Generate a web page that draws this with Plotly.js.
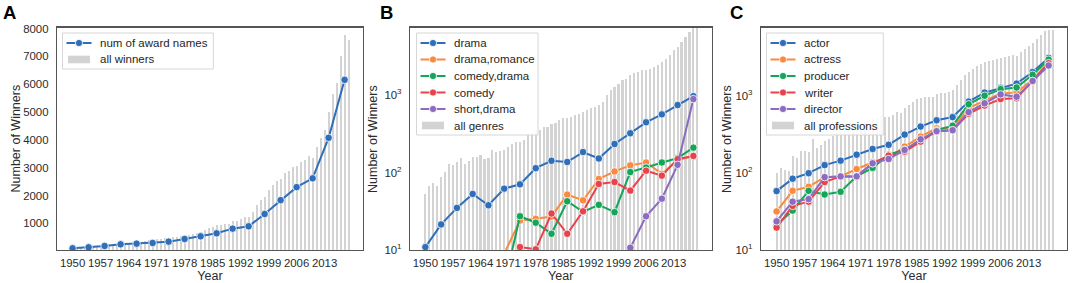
<!DOCTYPE html>
<html>
<head>
<meta charset="utf-8">
<script src="https://cdn.plot.ly/plotly-3.0.1.min.js"></script>
<style>html,body{margin:0;padding:0;background:#fff}#chart{width:1072px;height:283px}</style>
</head>
<body>
<div id="chart"></div>
<script>
// ---------- data ----------
const barYears = [1950,1951,1952,1953,1954,1955,1956,1957,1958,1959,
  1960,1961,1962,1963,1964,1965,1966,1967,1968,1969,
  1970,1971,1972,1973,1974,1975,1976,1977,1978,1979,
  1980,1981,1982,1983,1984,1985,1986,1987,1988,1989,
  1990,1991,1992,1993,1994,1995,1996,1997,1998,1999,
  2000,2001,2002,2003,2004,2005,2006,2007,2008,2009,
  2010,2011,2012,2013,2014,2015,2016,2017,2018,2019];
const pointYears = [1950,1954,1958,1962,1966,1970,1974,1978,1982,1986,1990,1994,1998,2002,2006,2010,2014,2018];
const xTickVals = [1950,1957,1964,1971,1978,1985,1992,1999,2006,2013];
const xTickText = ['1950','1957','1964','1971','1978','1985','1992','1999','2006','2013'];
const yTickValsA = [1000,2000,3000,4000,5000,6000,7000,8000];
const logTickVals = [10,100,1000];
const logTickText = ['10<sup>1</sup>','10<sup>2</sup>','10<sup>3</sup>'];

// Panel A
const allWinners = [101,117,109,107,166,158,192,192,188,271,
  212,233,258,271,299,310,330,345,360,385,
  400,420,440,460,470,500,510,540,560,590,
  620,650,700,760,830,880,930,950,970,975,
  1080,1100,1150,1220,1240,1420,1650,1830,1950,2180,
  2370,2520,2580,2800,2890,3030,3050,3200,3270,3410,
  3330,3750,4050,4350,5000,5650,6050,7000,7760,7600];
const awardNames = [103,139,187,246,270,294,342,438,533,641,809,892,1335,1833,2300,2617,4072,6155];

// Panel B
const allGenres = [53,68,73,68,89,102,130,127,135,154,
  129,142,161,157,170,149,155,193,182,191,
  193,217,233,247,251,265,306,320,340,355,
  385,392,425,433,478,500,510,525,553,570,
  611,640,676,708,745,821,1000,1160,1280,1413,
  1555,1637,1807,1905,2000,2100,2140,2200,2310,2430,
  2680,2955,3300,3780,4170,4800,5600,6500,8000,8000];
const drama        = [10.9,21.4,35,53,37.8,62,70.5,114,142,137,184,152,234,322,446,565,745,970];
const dramaRomance = [null,null,null,null,null,9,24,25.3,27,52,43.8,82.6,103.5,124,135,96.6,146,164];
const comedyDrama  = [null,null,null,null,null,3.5,27.3,22.5,16.2,42.6,31.1,38.3,30.8,101.6,116,135,154,210];
const comedy       = [null,null,null,null,null,null,10.9,10.2,29.6,16.2,31.6,71.3,75.5,58.5,105.7,91.3,149,164];
const shortDrama   = [null,null,null,null,null,null,null,null,null,null,null,null,null,10.7,27.3,46,126,890];

// Panel C
const allProfessions = [101,117,109,107,166,158,192,192,188,271,
  212,233,258,271,299,330,350,370,390,400,
  420,440,460,480,500,520,538,525,525,560,
  624,600,688,758,838,900,930,950,960,971,
  1039,1080,1100,1125,1180,1366,1581,1832,2024,2230,
  2455,2582,2715,2846,2930,2990,3080,3140,3237,3396,
  3298,3640,4010,4418,4885,5380,6050,6870,7210,7210];
const actor    = [58,84,99,126,144,172,204,231,313,398,480,528,838,1097,1265,1435,2024,3085];
const actress  = [31.6,58.5,66,88,90.5,112,137,160,219,295,378,372,689,853,1070,1102,1616,2718];
const producer = [21,32.4,58.5,52.4,56.8,90,116,172,200,260,357,409,774,1000,1215,1276,1870,2930];
const writer   = [19.5,37.3,42.3,76,90,90,133,167,188,254,347,357,583,745,906,925,1552,2640];
const director = [23.5,42.3,45.7,88,90,90,133,151,198,272,347,357,612,797,1040,970,1552,2460];

// ---------- styles ----------
const W = 1072, H = 283;
const FONT = 'Liberation Sans, Arial, Helvetica, sans-serif';
const TXT = '#2b2b2b';
const BAR_COLOR = '#d3d3d3';
const C_BLUE = '#2f6eb8', C_ORANGE = '#f98a3f', C_GREEN = '#14a558', C_RED = '#e6434c', C_PURPLE = '#8b6cc0';
const px = x => x / W;
const py = y => 1 - y / H;

function barTrace(y, xa, ya, name) {
  return {type: 'bar', x: barYears, y: y, width: 0.55, name: name,
    marker: {color: BAR_COLOR, line: {width: 0}}, xaxis: xa, yaxis: ya, showlegend: false, hoverinfo: 'x+y'};
}
function lineTrace(y, color, xa, ya, name) {
  return {type: 'scatter', mode: 'lines+markers', x: pointYears, y: y, name: name,
    line: {color: color, width: 2}, marker: {color: color, size: 7.5, line: {color: '#ffffff', width: 0.8}},
    connectgaps: false, xaxis: xa, yaxis: ya, showlegend: false};
}

const traces = [
  barTrace(allWinners, 'x', 'y', 'all winners'),
  lineTrace(awardNames, C_BLUE, 'x', 'y', 'num of award names'),
  barTrace(allGenres, 'x2', 'y2', 'all genres'),
  lineTrace(drama, C_BLUE, 'x2', 'y2', 'drama'),
  lineTrace(dramaRomance, C_ORANGE, 'x2', 'y2', 'drama,romance'),
  lineTrace(comedyDrama, C_GREEN, 'x2', 'y2', 'comedy,drama'),
  lineTrace(comedy, C_RED, 'x2', 'y2', 'comedy'),
  lineTrace(shortDrama, C_PURPLE, 'x2', 'y2', 'short,drama'),
  barTrace(allProfessions, 'x3', 'y3', 'all professions'),
  lineTrace(actor, C_BLUE, 'x3', 'y3', 'actor'),
  lineTrace(actress, C_ORANGE, 'x3', 'y3', 'actress'),
  lineTrace(producer, C_GREEN, 'x3', 'y3', 'producer'),
  lineTrace(writer, C_RED, 'x3', 'y3', 'writer'),
  lineTrace(director, C_PURPLE, 'x3', 'y3', 'director')
];

const yDom = [1 - 250 / H, 1 - 27.5 / H];
function xAxis(dom, anchor) {
  return {domain: dom, anchor: anchor, range: [1946.1, 2022.6], tickmode: 'array', tickvals: xTickVals, ticktext: xTickText,
    showline: true, mirror: true, linecolor: '#555555', linewidth: 1.2, showgrid: false, zeroline: false,
    ticks: '', ticklabelstandoff: 2, tickfont: {size: 11.4, color: TXT, family: FONT},
    title: {text: 'Year', font: {size: 12.5, color: TXT, family: FONT}, standoff: 3}, automargin: false, fixedrange: true};
}
function yAxisBase(anchor) {
  return {domain: yDom, anchor: anchor, showline: true, mirror: true, linecolor: '#555555', linewidth: 1.2,
    showgrid: false, zeroline: false, ticks: '', ticklabelstandoff: 5,
    tickfont: {size: 11.4, color: TXT, family: FONT},
    automargin: false, fixedrange: true};
}
const yA = Object.assign(yAxisBase('x'), {range: [42, 8036], tickmode: 'array', tickvals: yTickValsA, ticktext: yTickValsA.map(String)});
const yB = Object.assign(yAxisBase('x2'), {type: 'log', range: [1, 3.874], tickmode: 'array', tickvals: logTickVals, ticktext: logTickText});
const yC = Object.assign(yAxisBase('x3'), {type: 'log', range: [1, 3.884], tickmode: 'array', tickvals: logTickVals, ticktext: logTickText});

// ---------- hand-drawn legends (matplotlib style) ----------
const shapes = [], annotations = [];
function legend(left, top, right, rows) {
  const rowStep = 16.5, firstRow = top + 10;
  const bottom = firstRow + rowStep * (rows.length - 1) + 9.5;
  shapes.push({type: 'rect', xref: 'paper', yref: 'paper', x0: px(left), x1: px(right), y0: py(top), y1: py(bottom),
    fillcolor: 'rgba(255,255,255,0.85)', line: {color: '#d6d6d6', width: 1}, layer: 'above'});
  rows.forEach((r, i) => {
    const cy = firstRow + rowStep * i;
    const h0 = left + 4, h1 = left + 29, mx = left + 16.5;
    if (r.kind === 'line') {
      shapes.push({type: 'line', xref: 'paper', yref: 'paper', x0: px(h0), x1: px(h1), y0: py(cy), y1: py(cy),
        line: {color: r.color, width: 2}, layer: 'above'});
      shapes.push({type: 'circle', xref: 'paper', yref: 'paper', x0: px(mx - 3.6), x1: px(mx + 3.6), y0: py(cy + 3.6), y1: py(cy - 3.6),
        fillcolor: r.color, line: {color: '#ffffff', width: 0.8}, layer: 'above'});
    } else {
      shapes.push({type: 'rect', xref: 'paper', yref: 'paper', x0: px(h0 + 1.5), x1: px(h1 - 1.5), y0: py(cy + 3.8), y1: py(cy - 3.8),
        fillcolor: BAR_COLOR, line: {width: 0}, layer: 'above'});
    }
    annotations.push({xref: 'paper', yref: 'paper', x: px(left + 35.5), y: py(cy), xanchor: 'left', yanchor: 'middle',
      text: r.label, showarrow: false, font: {size: 11.5, color: '#262626', family: FONT}});
  });
}
legend(62.5, 33, 213.3, [
  {kind: 'line', color: C_BLUE, label: 'num of award names'},
  {kind: 'bar', label: 'all winners'}]);
legend(416.5, 33, 538, [
  {kind: 'line', color: C_BLUE, label: 'drama'},
  {kind: 'line', color: C_ORANGE, label: 'drama,romance'},
  {kind: 'line', color: C_GREEN, label: 'comedy,drama'},
  {kind: 'line', color: C_RED, label: 'comedy'},
  {kind: 'line', color: C_PURPLE, label: 'short,drama'},
  {kind: 'bar', label: 'all genres'}]);
legend(766.5, 33, 883.3, [
  {kind: 'line', color: C_BLUE, label: 'actor'},
  {kind: 'line', color: C_ORANGE, label: 'actress'},
  {kind: 'line', color: C_GREEN, label: 'producer'},
  {kind: 'line', color: C_RED, label: 'writer'},
  {kind: 'line', color: C_PURPLE, label: 'director'},
  {kind: 'bar', label: 'all professions'}]);

// y-axis titles (placed like the reference)
[15.5, 373, 727].forEach(x => {
  annotations.push({xref: 'paper', yref: 'paper', x: px(x), y: py(139), xanchor: 'center', yanchor: 'middle',
    text: 'Number of Winners', textangle: -90, showarrow: false, font: {size: 12.5, color: TXT, family: FONT}});
});

// panel letters
[['A', 0.5], ['B', 378], ['C', 728]].forEach(([t, x]) => {
  annotations.push({xref: 'paper', yref: 'paper', x: px(x), y: py(12.5), xanchor: 'left', yanchor: 'middle',
    text: '<b>' + t + '</b>', showarrow: false, font: {size: 18.5, color: '#000000', family: FONT}});
});

const layout = {
  width: W, height: H, margin: {l: 0, r: 0, t: 0, b: 0},
  paper_bgcolor: '#ffffff', plot_bgcolor: '#ffffff',
  font: {family: FONT, color: TXT},
  showlegend: false, bargap: 0,
  xaxis: xAxis([57 / W, 363 / W], 'y'),
  xaxis2: xAxis([410 / W, 711.5 / W], 'y2'),
  xaxis3: xAxis([761 / W, 1067 / W], 'y3'),
  yaxis: yA, yaxis2: yB, yaxis3: yC,
  shapes: shapes, annotations: annotations
};

Plotly.newPlot('chart', traces, layout, {displayModeBar: false, staticPlot: true});
</script>
</body>
</html>
